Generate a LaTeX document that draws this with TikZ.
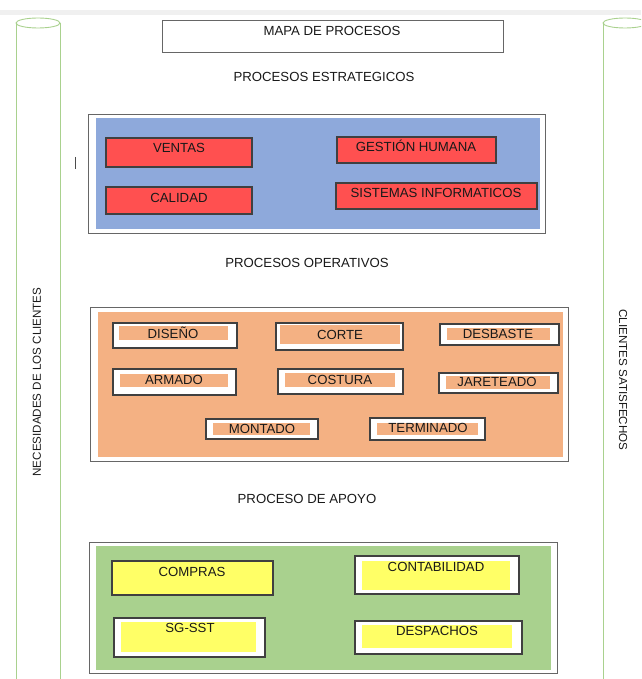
\documentclass[tikz,border=0pt]{standalone}
\usepackage{fontspec}
\setmainfont{Liberation Sans}
\definecolor{cylgreen}{RGB}{169,209,142}
\definecolor{stratblue}{RGB}{142,169,219}
\definecolor{procred}{RGB}{255,80,80}
\definecolor{opor}{RGB}{244,177,131}
\definecolor{supgreen}{RGB}{169,209,142}
\definecolor{supyellow}{RGB}{255,255,102}
\begin{document}
\begin{tikzpicture}[x=1pt,y=-1pt,
  lbl/.style={font=\fontsize{13.2}{15}\selectfont, inner sep=0pt, text=black!90},
  vlbl/.style={font=\fontsize{11.6}{13}\selectfont, inner sep=0pt, text=black!90},
  frame/.style={draw=black!60, line width=0.9pt, fill=white},
  sub/.style={draw=black!75, line width=1.3pt, fill=white},
  cylline/.style={draw=cylgreen, line width=0.9pt}]
\useasboundingbox (0,0) rectangle (641,679);
\clip (0,0) rectangle (641,679);
\fill[black!6] (0,10) rectangle (641,15);
% cylinders
\draw[cylline] (16,23) -- (16,690) (60,23) -- (60,690);
\draw[cylline] (38,23) ellipse [x radius=22, y radius=5];
\draw[cylline] (603,23) -- (603,690) (647,23) -- (647,690);
\draw[cylline] (625,23) ellipse [x radius=22, y radius=5];
\node[vlbl, rotate=90] (nec) at (37,382) {NECESIDADES DE LOS CLIENTES};
\node[vlbl, rotate=-90] (sat) at (623,380) {CLIENTES SATISFECHOS};
% title
\draw[frame] (162,20) rectangle (503,52);
\node[lbl] (title) at (332,31) {MAPA DE PROCESOS};
\node[lbl] (est) at (324,77) {PROCESOS ESTRATEGICOS};
% strategic
\draw[frame] (88,114) rectangle (545,233);
\fill[stratblue] (96,118) rectangle (540,229);
\draw[black!70, line width=0.8pt] (75,157) -- (75,169);
\draw[sub, fill=procred] (106,138) rectangle (252,167);
\node[lbl] (ventas) at (179,148) {VENTAS};
\draw[sub, fill=procred] (106,187) rectangle (252,214);
\node[lbl] (calidad) at (179,198) {CALIDAD};
\draw[sub, fill=procred] (337,137) rectangle (496,163);
\node[lbl] (gh) at (416,146) {GESTIÓN HUMANA};
\draw[sub, fill=procred] (336,183) rectangle (537,209);
\node[lbl] (si) at (436,193) {SISTEMAS INFORMATICOS};
% operative
\node[lbl] (op) at (307,263) {PROCESOS OPERATIVOS};
\draw[frame] (90,307) rectangle (568,461);
\fill[opor] (98,312) rectangle (563,457);
\draw[sub] (113,323) rectangle (237,348); \fill[opor] (119,326) rectangle (228,340);
\node[lbl] (diseno) at (173,333) {DISEÑO};
\draw[sub] (276,323) rectangle (403,350); \fill[opor] (280,325) rectangle (400,344);
\node[lbl] (corte) at (340,335) {CORTE};
\draw[sub] (440,324) rectangle (559,345); \fill[opor] (447,328) rectangle (550,340);
\node[lbl] (desbaste) at (498,334) {DESBASTE};
\draw[sub] (113,369) rectangle (236,395); \fill[opor] (120,374) rectangle (228,387);
\node[lbl] (armado) at (174,380) {ARMADO};
\draw[sub] (278,369) rectangle (403,394); \fill[opor] (285,373) rectangle (395,387);
\node[lbl] (costura) at (340,380) {COSTURA};
\draw[sub] (439,373) rectangle (558,393); \fill[opor] (446,376) rectangle (550,389);
\node[lbl] (jareteado) at (497,382) {JARETEADO};
\draw[sub] (206,419) rectangle (318,439); \fill[opor] (213,423) rectangle (310,435);
\node[lbl] (montado) at (262,429) {MONTADO};
\draw[sub] (370,418) rectangle (485,440); \fill[opor] (377,423) rectangle (478,435);
\node[lbl] (terminado) at (428,428) {TERMINADO};
% support
\node[lbl] (apoyo) at (307,499) {PROCESO DE APOYO};
\draw[frame] (89,542) rectangle (557,673);
\fill[supgreen] (96,546) rectangle (551,670);
\draw[sub, fill=supyellow] (112,561) rectangle (273,595);
\node[lbl] (compras) at (192,572) {COMPRAS};
\draw[sub] (355,556) rectangle (519,594); \fill[supyellow] (362,561) rectangle (510,590);
\node[lbl] (conta) at (436,567) {CONTABILIDAD};
\draw[sub] (114,618) rectangle (265,657); \fill[supyellow] (121,622) rectangle (256,652);
\node[lbl] (sgsst) at (190,628) {SG-SST};
\draw[sub] (355,621) rectangle (522,654); \fill[supyellow] (362,625) rectangle (512,648);
\node[lbl] (desp) at (437,631) {DESPACHOS};
\end{tikzpicture}
\end{document}
